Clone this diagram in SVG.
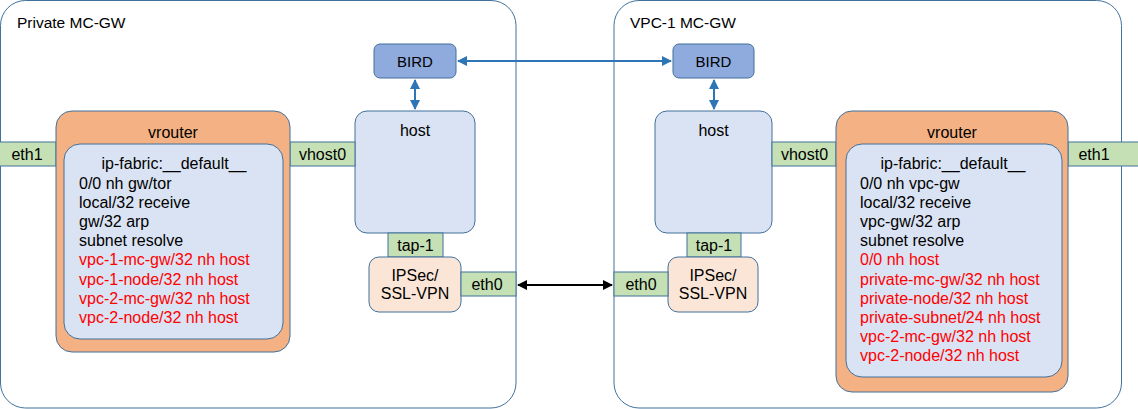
<svg xmlns="http://www.w3.org/2000/svg" width="1138" height="409" viewBox="0 0 1138 409">
<defs>
<style>
text{font-family:"Liberation Sans",Arial,sans-serif;font-size:16px;fill:#000}
.c{text-anchor:middle}
.red{fill:#ff0000}
.box{stroke:#41719c;stroke-width:1}
.cont{fill:#fff;stroke:#41719c;stroke-width:1}
.bird{fill:#8faadc}
.host{fill:#dae3f3}
.port{fill:#c5e0b4}
.vr{fill:#f4b183}
.vpn{fill:#fbe5d6}
.blue{stroke:#2e75b6;stroke-width:2;fill:none}
.blk{stroke:#000;stroke-width:2;fill:none}
</style>
<marker id="ab" viewBox="0 0 10 10" refX="9" refY="5" markerWidth="5" markerHeight="5" orient="auto-start-reverse"><path d="M0,0 L10,5 L0,10 z" fill="#2e75b6"/></marker>
<marker id="ak" viewBox="0 0 10 10" refX="9" refY="5" markerWidth="5" markerHeight="5" orient="auto-start-reverse"><path d="M0,0 L10,5 L0,10 z" fill="#000"/></marker>
</defs>
<rect width="1138" height="409" fill="#fff"/>
<g id="private-mc-gw">
<rect class="cont" x="0.5" y="0.5" width="515.5" height="407.5" rx="25"/>
<text x="17" y="28" style="font-size:15.5px">Private MC-GW</text>
</g>
<g id="vpc1-mc-gw">
<rect class="cont" x="614" y="0.5" width="507.5" height="407.5" rx="25"/>
<text x="630" y="28" style="font-size:15.5px">VPC-1 MC-GW</text>
</g>
<g id="connectors">
<line class="blue" x1="458" y1="61" x2="671" y2="61" marker-start="url(#ab)" marker-end="url(#ab)"/>
<line class="blue" x1="415" y1="80" x2="415" y2="109" marker-start="url(#ab)" marker-end="url(#ab)"/>
<line class="blue" x1="714" y1="80" x2="714" y2="109" marker-start="url(#ab)" marker-end="url(#ab)"/>
<line class="blk" x1="518" y1="285" x2="612" y2="285" marker-start="url(#ak)" marker-end="url(#ak)"/>
</g>
<g id="left-bird"><rect class="box bird" x="374" y="44" width="82" height="34" rx="6"/><text class="c" x="415" y="66.5" style="font-size:15px">BIRD</text></g>
<g id="left-host"><rect class="box host" x="355" y="111" width="120" height="122" rx="12"/><text class="c" x="415" y="135.5">host</text></g>
<g id="left-tap"><rect class="box port" x="388" y="233" width="55" height="24"/><text class="c" x="415.5" y="251">tap-1</text></g>
<g id="left-vpn"><rect class="box vpn" x="369" y="257" width="92" height="55" rx="10"/><text class="c" x="415" y="280.5">IPSec/</text><text class="c" x="415" y="299">SSL-VPN</text></g>
<g id="left-eth0"><rect class="box port" x="461" y="272" width="55" height="24"/><text class="c" x="487" y="290">eth0</text></g>
<g id="left-vhost0"><rect class="box port" x="290" y="142" width="65" height="24"/><text class="c" x="322.5" y="160">vhost0</text></g>
<g id="left-eth1"><rect class="box port" x="-1" y="142" width="57" height="24"/><text class="c" x="27" y="160">eth1</text></g>
<g id="left-vrouter">
<rect class="box vr" x="56" y="111" width="234" height="241" rx="16"/>
<text class="c" x="173" y="137.5">vrouter</text>
<rect class="box host" x="64" y="144" width="219" height="195" rx="16"/>
<text class="c" x="174" y="168.6">ip-fabric:__default__</text>
<text x="79" y="188.6">0/0 nh gw/tor</text>
<text x="79" y="207.8">local/32 receive</text>
<text x="79" y="227">gw/32 arp</text>
<text x="79" y="246.2">subnet resolve</text>
<text class="red" x="79" y="265.4">vpc-1-mc-gw/32 nh host</text>
<text class="red" x="79" y="284.6">vpc-1-node/32 nh host</text>
<text class="red" x="79" y="303.8">vpc-2-mc-gw/32 nh host</text>
<text class="red" x="79" y="323">vpc-2-node/32 nh host</text>
</g>
<g id="right-bird"><rect class="box bird" x="673" y="44" width="81" height="34" rx="6"/><text class="c" x="713.5" y="66.5" style="font-size:15px">BIRD</text></g>
<g id="right-host"><rect class="box host" x="655" y="111" width="117" height="122" rx="12"/><text class="c" x="713.5" y="135.5">host</text></g>
<g id="right-tap"><rect class="box port" x="687" y="233" width="54" height="24"/><text class="c" x="714" y="251">tap-1</text></g>
<g id="right-vpn"><rect class="box vpn" x="668" y="257" width="90" height="55" rx="10"/><text class="c" x="713" y="280.5">IPSec/</text><text class="c" x="713" y="299">SSL-VPN</text></g>
<g id="right-eth0"><rect class="box port" x="614" y="272" width="54" height="24"/><text class="c" x="641" y="290">eth0</text></g>
<g id="right-vhost0"><rect class="box port" x="772" y="142" width="64" height="24"/><text class="c" x="804.5" y="160">vhost0</text></g>
<g id="right-eth1"><rect class="box port" x="1068" y="142" width="71" height="24"/><text class="c" x="1094" y="160">eth1</text></g>
<g id="right-vrouter">
<rect class="box vr" x="836" y="111" width="232" height="281" rx="16"/>
<text class="c" x="952" y="137.5">vrouter</text>
<rect class="box host" x="846" y="144" width="216" height="233" rx="16"/>
<text class="c" x="953" y="168.6">ip-fabric:__default__</text>
<text x="860" y="188.6">0/0 nh vpc-gw</text>
<text x="860" y="207.8">local/32 receive</text>
<text x="860" y="227">vpc-gw/32 arp</text>
<text x="860" y="246.2">subnet resolve</text>
<text class="red" x="860" y="265.4">0/0 nh host</text>
<text class="red" x="860" y="284.6">private-mc-gw/32 nh host</text>
<text class="red" x="860" y="303.8">private-node/32 nh host</text>
<text class="red" x="860" y="323">private-subnet/24 nh host</text>
<text class="red" x="860" y="342.2">vpc-2-mc-gw/32 nh host</text>
<text class="red" x="860" y="361.4">vpc-2-node/32 nh host</text>
</g>
</svg>
